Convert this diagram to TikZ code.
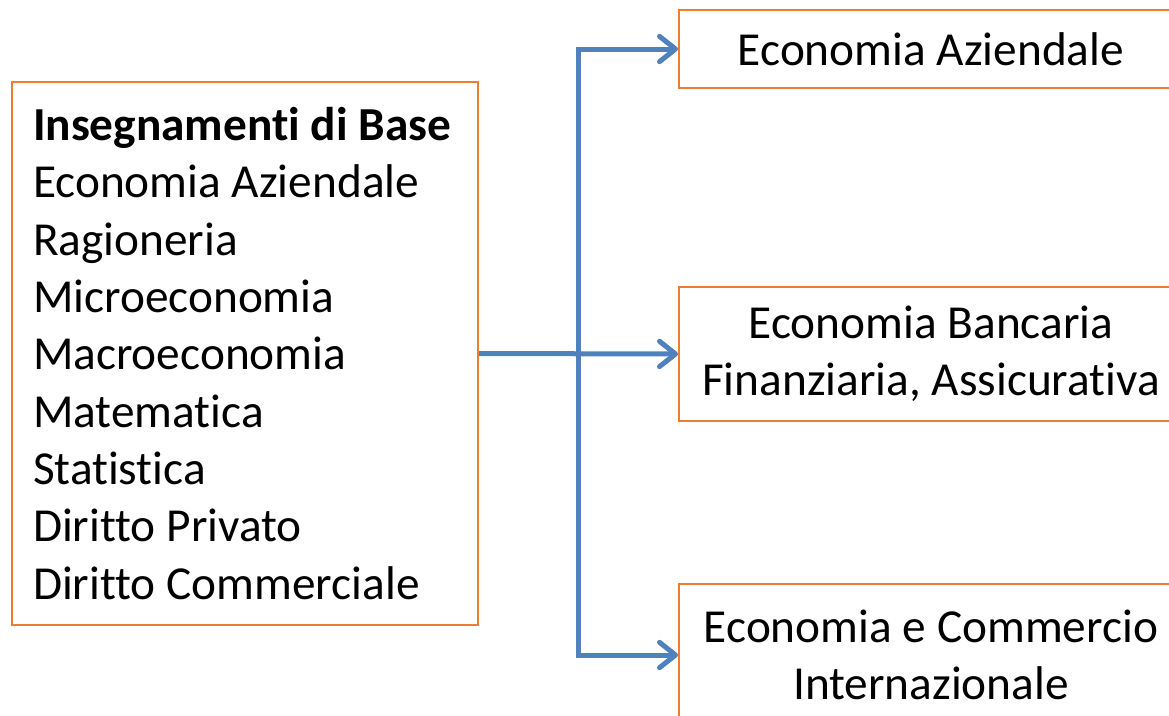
\documentclass[tikz,border=0pt]{standalone}
\usepackage{fontspec}
\setmainfont{Carlito}[Ligatures=NoCommon]
\usetikzlibrary{arrows.meta}
\definecolor{boxline}{RGB}{237,125,49}
\definecolor{flowline}{RGB}{79,129,189}
\tikzset{
  course/.style={draw=boxline, line width=1.5pt, fill=white, inner sep=0pt,
    font=\fontsize{35.5}{43}\selectfont},
  flow/.style={draw=flowline, line width=3.75pt,
    -{Straight Barb[length=12pt, width=19pt, round]}},
}
\begin{document}
\begin{tikzpicture}[x=0.75pt, y=-0.75pt]

            \useasboundingbox (0,0) rectangle (1169,715);
            \clip (0,0) rectangle (1169,715);

            \node [course, minimum width=349.5pt, minimum height=407.25pt,
                   inner xsep=15.75pt, text width=318pt, align=flush left] (base) at (245,353.5)
                  {\mbox{\textbf{Insegnamenti di Base}}\\Economia Aziendale\\Ragioneria\\Microeconomia\\Macroeconomia\\Matematica\\Statistica\\Diritto Privato\\Diritto Commerciale};

            \node [course, minimum width=378pt, minimum height=58.5pt, align=center] (aziendale) at (931,49) {Economia Aziendale};
            \node [course, minimum width=378pt, minimum height=100.5pt, align=center] (bancaria) at (931,354) {Economia Bancaria\\Finanziaria, Assicurativa};
            \node [course, minimum width=378pt, minimum height=106.5pt, align=center] (estero) at (931,655) {Economia e Commercio\\Internazionale};

            \coordinate (split) at (578,354);

            \draw [flow] (base.east) -- (bancaria.west);
            \draw [flow] (split) |- (aziendale.west);
            \draw [flow] (split) |- (estero.west);

\end{tikzpicture}
\end{document}
